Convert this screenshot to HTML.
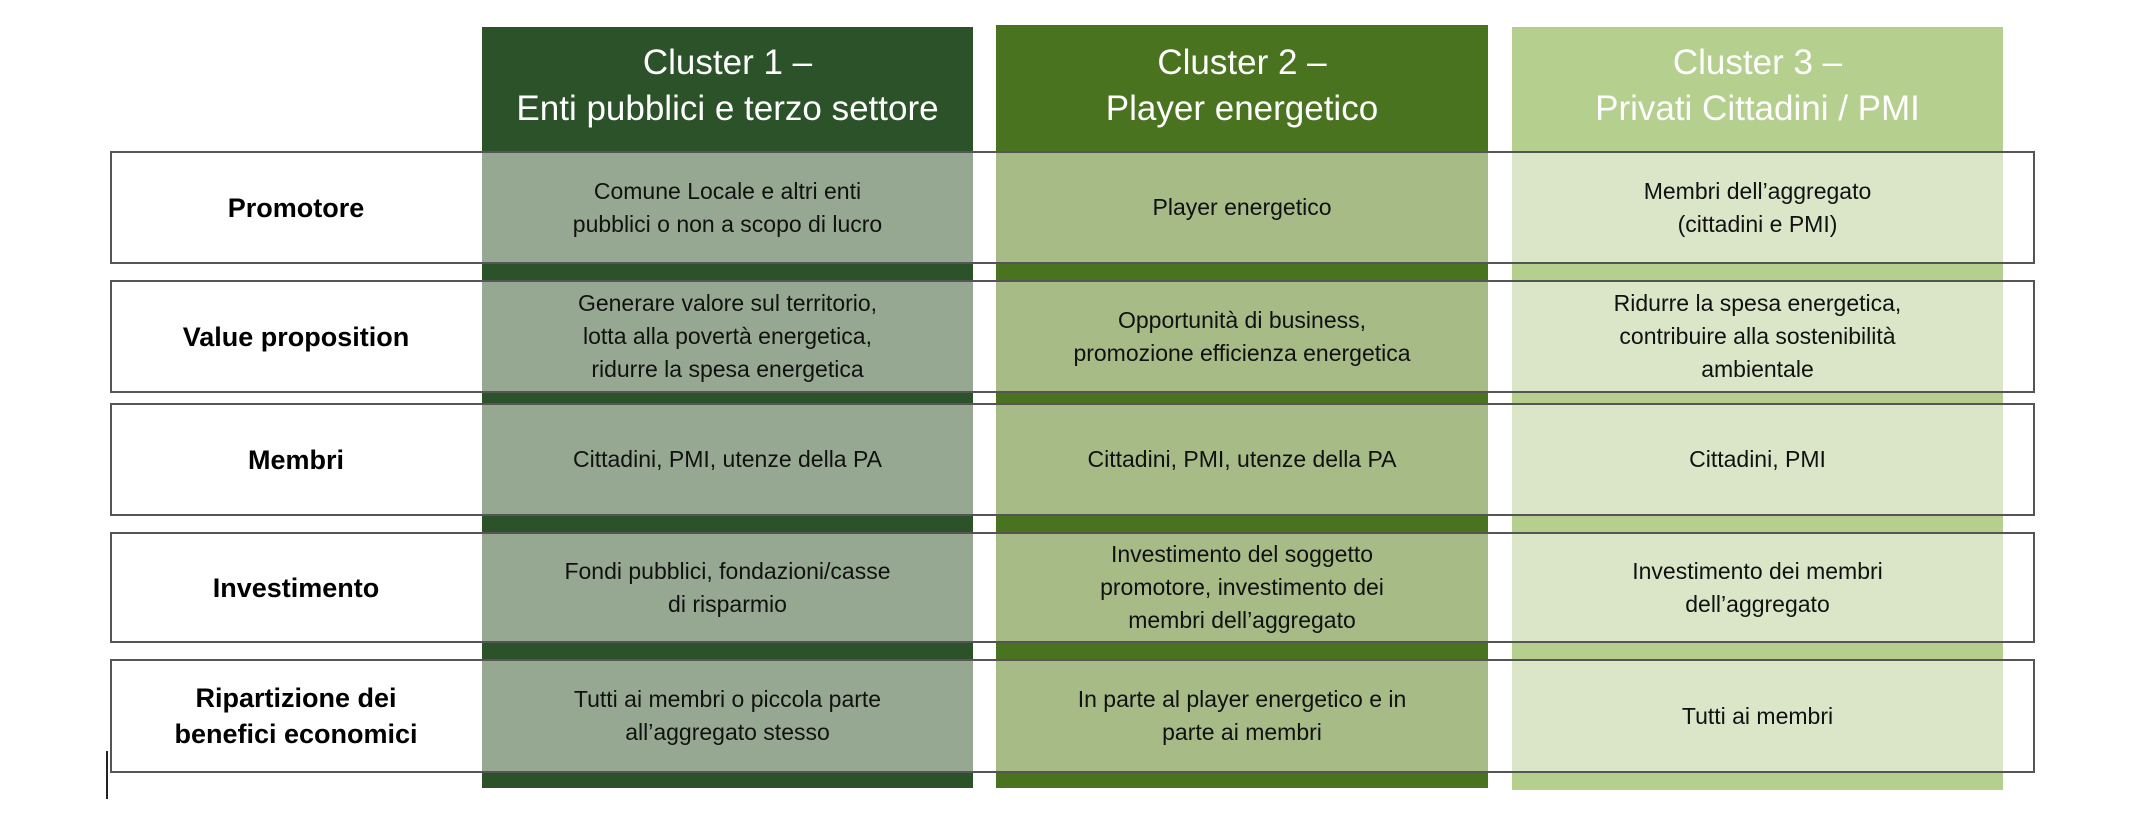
<!DOCTYPE html>
<html><head><meta charset="utf-8"><style>
body{margin:0;width:2148px;height:840px;background:#fff;position:relative;overflow:hidden;font-family:"Liberation Sans",sans-serif;}
div{position:absolute;box-sizing:border-box;}
.col{top:27px;height:761px;}
.hd{color:#fff;font-size:35px;text-align:center;line-height:46px;top:40px;}
.wb{left:110px;width:1925px;background:#fff;}
.bd{left:110px;width:1925px;border:2px solid #555;}
.cell{display:flex;align-items:center;justify-content:center;text-align:center;font-size:23px;line-height:33px;color:#111;}
.lab{left:110px;width:372px;display:flex;align-items:center;justify-content:center;text-align:center;font-weight:bold;font-size:27px;line-height:36px;color:#000;}
</style></head><body>
<div class="col" style="left:482px;width:491px;background:#2c5229"></div>
<div class="col" style="left:996px;width:492px;background:#4a7320;top:25px;height:763px"></div>
<div class="col" style="left:1512px;width:491px;background:#b5cf8f;height:763px"></div>
<div class="hd" style="left:482px;width:491px">Cluster 1 –<br>Enti pubblici e terzo settore</div>
<div class="hd" style="left:996px;width:492px">Cluster 2 –<br>Player energetico</div>
<div class="hd" style="left:1512px;width:491px">Cluster 3 –<br>Privati Cittadini / PMI</div>

<div class="wb" style="top:151px;height:113px"></div>
<div class="wb" style="top:280px;height:113px"></div>
<div class="wb" style="top:403px;height:113px"></div>
<div class="wb" style="top:532px;height:111px"></div>
<div class="wb" style="top:659px;height:114px"></div>

<div class="lab" style="top:151px;height:113px">Promotore</div>
<div class="cell" style="left:482px;width:491px;top:151px;height:113px;background:#97a892">Comune Locale e altri enti<br>pubblici o non a scopo di lucro</div>
<div class="cell" style="left:996px;width:492px;top:151px;height:113px;background:#a7bb87">Player energetico</div>
<div class="cell" style="left:1512px;width:491px;top:151px;height:113px;background:#dae6c7">Membri dell’aggregato<br>(cittadini e PMI)</div>

<div class="lab" style="top:280px;height:113px">Value proposition</div>
<div class="cell" style="left:482px;width:491px;top:280px;height:113px;background:#97a892">Generare valore sul territorio,<br>lotta alla povertà energetica,<br>ridurre la spesa energetica</div>
<div class="cell" style="left:996px;width:492px;top:280px;height:113px;background:#a7bb87">Opportunità di business,<br>promozione efficienza energetica</div>
<div class="cell" style="left:1512px;width:491px;top:280px;height:113px;background:#dae6c7">Ridurre la spesa energetica,<br>contribuire alla sostenibilità<br>ambientale</div>

<div class="lab" style="top:403px;height:113px">Membri</div>
<div class="cell" style="left:482px;width:491px;top:403px;height:113px;background:#97a892">Cittadini, PMI, utenze della PA</div>
<div class="cell" style="left:996px;width:492px;top:403px;height:113px;background:#a7bb87">Cittadini, PMI, utenze della PA</div>
<div class="cell" style="left:1512px;width:491px;top:403px;height:113px;background:#dae6c7">Cittadini, PMI</div>

<div class="lab" style="top:532px;height:111px">Investimento</div>
<div class="cell" style="left:482px;width:491px;top:532px;height:111px;background:#97a892">Fondi pubblici, fondazioni/casse<br>di risparmio</div>
<div class="cell" style="left:996px;width:492px;top:532px;height:111px;background:#a7bb87">Investimento del soggetto<br>promotore, investimento dei<br>membri dell’aggregato</div>
<div class="cell" style="left:1512px;width:491px;top:532px;height:111px;background:#dae6c7">Investimento dei membri<br>dell’aggregato</div>

<div class="lab" style="top:659px;height:114px">Ripartizione dei<br>benefici economici</div>
<div class="cell" style="left:482px;width:491px;top:659px;height:114px;background:#97a892">Tutti ai membri o piccola parte<br>all’aggregato stesso</div>
<div class="cell" style="left:996px;width:492px;top:659px;height:114px;background:#a7bb87">In parte al player energetico e in<br>parte ai membri</div>
<div class="cell" style="left:1512px;width:491px;top:659px;height:114px;background:#dae6c7">Tutti ai membri</div>

<div class="bd" style="top:151px;height:113px"></div>
<div class="bd" style="top:280px;height:113px"></div>
<div class="bd" style="top:403px;height:113px"></div>
<div class="bd" style="top:532px;height:111px"></div>
<div class="bd" style="top:659px;height:114px"></div>
<div style="left:106px;top:751px;width:2px;height:48px;background:#222"></div>
</body></html>
